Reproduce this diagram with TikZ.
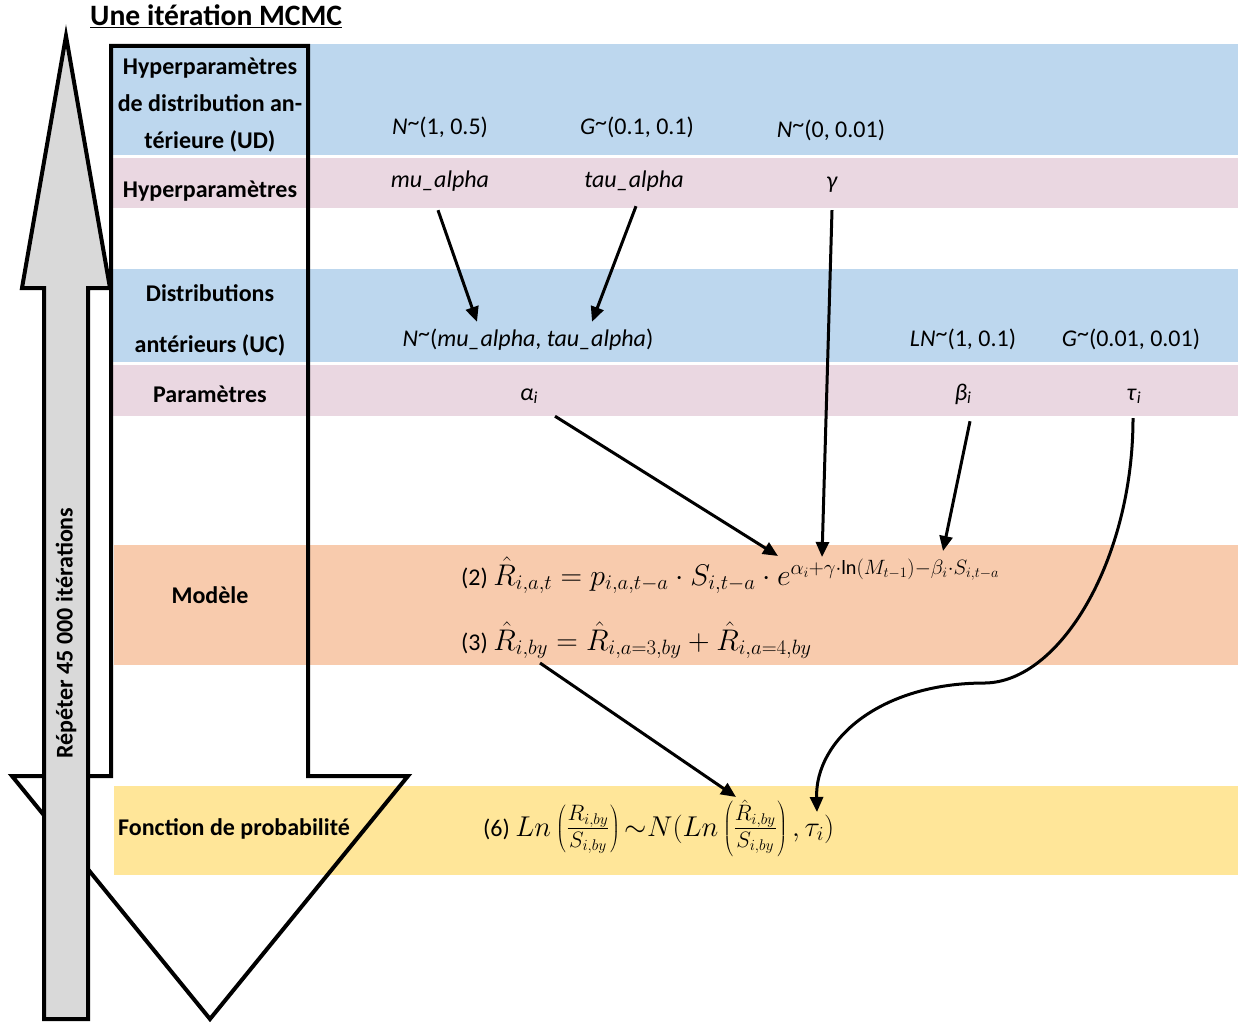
\documentclass[tikz,border=0pt]{standalone}
\usepackage{fontspec}
\usepackage{graphicx}
\setmainfont{Carlito}
\usetikzlibrary{arrows.meta}
\definecolor{bandblue}{RGB}{189,215,238}
\definecolor{bandpink}{RGB}{234,215,225}
\definecolor{bandorange}{RGB}{248,203,173}
\definecolor{bandyellow}{RGB}{255,230,153}
\definecolor{arrowgray}{RGB}{217,217,217}
\newcommand{\tld}{\raisebox{0.18em}{\textasciitilde}}
\newcommand{\bigmath}[1]{\scalebox{1.2}{$#1$}}
\newcommand{\eqsix}[1]{\scalebox{1.15}{$#1$}}
\newcommand{\bigfrac}[2]{\scalebox{1.12}{$\frac{#1}{#2}$}}
\begin{document}
\begin{tikzpicture}[x=1pt,y=-1pt,
  lbl/.style={font=\fontsize{24}{28}\selectfont\bfseries, inner sep=0pt, anchor=base},
  val/.style={font=\fontsize{24}{28}\selectfont, inner sep=0pt, anchor=base, text height=18pt, text depth=6pt},
  eqn/.style={font=\fontsize{24}{28}\selectfont, inner sep=0pt, anchor=base west},
  arr/.style={line width=3pt, -{Triangle[length=15pt,width=13pt]}},
  bigarrow/.style={line width=4pt, line join=miter, miter limit=20}]
\useasboundingbox (0,0) rectangle (1238,1022);
% bands
\fill[bandblue]   (113,44)  rectangle (1238,155);
\fill[bandpink]   (113,158) rectangle (1238,208);
\fill[bandblue]   (113,269) rectangle (1238,362);
\fill[bandpink]   (113,365) rectangle (1238,416);
\fill[bandorange] (114,545) rectangle (1238,665);
\fill[bandyellow] (114,786) rectangle (1238,875);
% big down arrow (one MCMC iteration)
\draw[bigarrow] (111,46) -- (308,46) -- (308,776) -- (408,776) -- (210,1019) -- (12,776) -- (111,776) -- cycle;
% grey up arrow (repeat)
\draw[bigarrow, fill=arrowgray] (44,1019) -- (44,288) -- (22,288) -- (66,36) -- (110,288) -- (88,288) -- (88,1019) -- cycle;
\node[lbl, rotate=90, anchor=center] (rep) at (66,633) {Répéter 45 000 itérations};
% title
\node[font=\fontsize{29.6}{34}\selectfont\bfseries, inner sep=0pt, anchor=base west] (title) at (90,26) {\underline{Une itération MCMC}};
% row labels
\node[lbl] (l1a) at (210,75)  {Hyperparamètres};
\node[lbl] (l1b) at (210,112) {de distribution an-};
\node[lbl] (l1c) at (210,148) {térieure (UD)};
\node[lbl] (l2)  at (210,197) {Hyperparamètres};
\node[lbl] (l3a) at (210,301) {Distributions};
\node[lbl] (l3b) at (210,352) {antérieurs (UC)};
\node[lbl] (l4)  at (210,402) {Paramètres};
\node[lbl] (l5)  at (210,603) {Modèle};
\node[lbl, anchor=base west] (l6) at (118,835) {Fonction de probabilité};
% hyperprior distributions
\node[val] (d1) at (440,135) {\textit{N}\tld(1, 0.5)};
\node[val] (d2) at (637,135) {\textit{G}\tld(0.1, 0.1)};
\node[val] (d3) at (831,137) {\textit{N}\tld(0, 0.01)};
% hyperparameters
\node[val] (mu)  at (440,187) {\textit{mu\_alpha}};
\node[val] (tau) at (634,187) {\textit{tau\_alpha}};
\node[val] (gam) at (832,188) {\textit{γ}};
% prior distributions
\node[val] (na) at (528,346) {\textit{N}\tld(\textit{mu\_alpha}, \textit{tau\_alpha})};
\node[val] (lnb) at (963,346) {\textit{LN}\tld(1, 0.1)};
\node[val] (gt) at (1131,346) {\textit{G}\tld(0.01, 0.01)};
% parameters
\node[val] (al) at (529,400) {\textit{α}\textsubscript{\textit{i}}};
\node[val] (be) at (963,400) {\textit{β}\textsubscript{\textit{i}}};
\node[val] (ta) at (1134,400) {\textit{τ}\textsubscript{\textit{i}}};
% model equations
\node[eqn] (eq2) at (461,585) {(2) \bigmath{\hat{R}_{i,a,t} = p_{i,a,t-a}\cdot S_{i,t-a}\cdot e^{\alpha_i+\gamma\cdot\ln(M_{t-1})-\beta_i\cdot S_{i,t-a}}}};
\node[eqn] (eq3) at (461,650) {(3) \bigmath{\hat{R}_{i,by} = \hat{R}_{i,a=3,by} + \hat{R}_{i,a=4,by}}};
% likelihood
\node[eqn] (eq6) at (483,836) {(6) \eqsix{Ln\left(\bigfrac{R_{i,by}}{S_{i,by}}\right){\sim}N(Ln\left(\bigfrac{\hat{R}_{i,by}}{S_{i,by}}\right),\tau_i)}};
% target points inside equations
\coordinate (tAlpha) at (778,556);
\coordinate (tGamma) at (822,557);
\coordinate (tBeta)  at (943,551);
\coordinate (sR3)    at (540,663);
\coordinate (tRhat)  at (736,797);
\coordinate (tTau)   at (817,812);
% connectors
\draw[arr] ([xshift=-2pt,yshift=-17pt]mu.south) -- ([xshift=-51pt,yshift=6pt]na.north);
\draw[arr] ([xshift=2pt,yshift=-13pt]tau.south) -- ([xshift=64pt,yshift=6pt]na.north);
\draw[arr] ([yshift=-16pt]gam.south) -- (tGamma);
\draw[arr] ([xshift=26pt,yshift=-10pt]al.south) -- (tAlpha);
\draw[arr] ([xshift=7pt,yshift=-15pt]be.south) -- (tBeta);
\draw[arr] ([xshift=-1pt,yshift=-12pt]ta.south) .. controls (1133,560) and (1060,682) .. (985,683)
   .. controls (880,683) and (815,740) .. (tTau);
\draw[arr] (sR3) -- (tRhat);
\end{tikzpicture}
\end{document}
